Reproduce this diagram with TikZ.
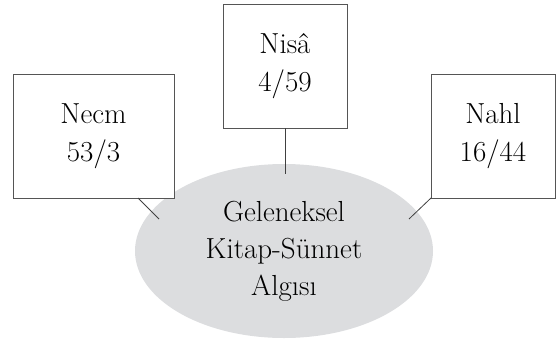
\documentclass[tikz,border=0pt]{standalone}
\usetikzlibrary{shapes.geometric}
\definecolor{ellgray}{RGB}{220,221,223}
\definecolor{boxline}{RGB}{85,85,85}
\begin{document}
\begin{tikzpicture}[x=1pt,y=-1pt,
  refbox/.style={draw=boxline,line width=0.9pt,fill=white,inner sep=0pt,outer sep=0pt,
    minimum height=124pt,align=center,font=\fontsize{29}{38}\selectfont},
  conn/.style={draw=black!75,line width=0.8pt}]
\useasboundingbox (0,0) rectangle (559,343);
\node[ellipse,fill=ellgray,minimum width=298pt,minimum height=174pt,inner sep=0pt,
  align=center,font=\fontsize{29}{37}\selectfont] (E) at (284,251) {Geleneksel\\Kitap-Sünnet\\Algısı};
\node[refbox,minimum width=161pt] (L) at (93.5,136) {Necm\\53/3};
\node[refbox,minimum width=124pt] (M) at (285,66) {Nisâ\\4/59};
\node[refbox,minimum width=124pt] (R) at (493,136) {Nahl\\16/44};
\coordinate (le) at (159,219);
\coordinate (me) at (285,174);
\coordinate (re) at (409,219);
\draw[conn] ([xshift=-36pt]L.south east) -- (le);
\draw[conn] (M.south) -- (me);
\draw[conn] (R.south west) -- (re);
\end{tikzpicture}
\end{document}
